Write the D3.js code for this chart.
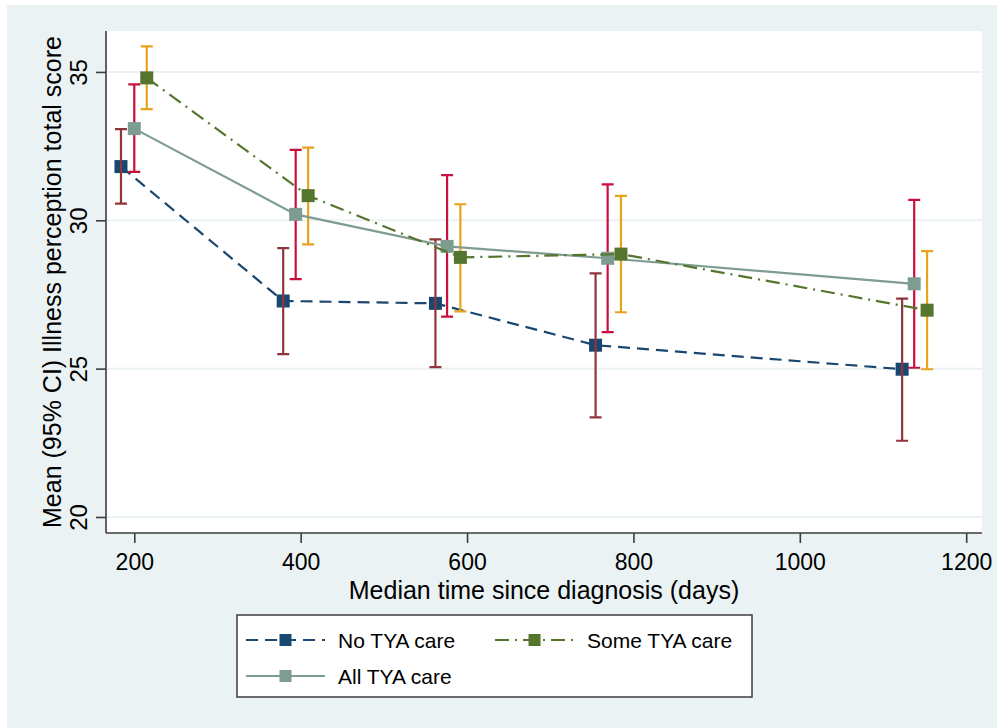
<!DOCTYPE html>
<html>
<head>
<meta charset="utf-8">
<script src="https://cdn.jsdelivr.net/npm/d3@7"></script>
<style>
  body { margin: 0; background: #ffffff; }
  svg text { font-family: "Liberation Sans", Arial, sans-serif; fill: #000; }
</style>
</head>
<body>
<div id="chart"></div>
<script>
// median days since diagnosis (each group plotted slightly offset)
var daysNo   = [184, 379, 562, 754.5, 1123];
var daysAll  = [200, 394, 576, 769, 1137.5];
var daysSome = [215, 409, 592, 785, 1153];

// means and 95% CI
var meanNo = [31.81, 27.28, 27.20, 25.79, 24.98];
var loNo   = [30.56, 25.49, 25.05, 23.36, 22.57];
var hiNo   = [33.07, 29.06, 29.36, 28.21, 27.36];

var meanAll = [33.09, 30.20, 29.12, 28.72, 27.86];
var loAll   = [31.63, 28.02, 26.75, 26.23, 25.03];
var hiAll   = [34.58, 32.37, 31.52, 31.21, 30.69];

var meanSome = [34.80, 30.83, 28.75, 28.86, 26.97];
var loSome   = [33.75, 29.19, 26.93, 26.90, 24.98];
var hiSome   = [35.86, 32.45, 30.54, 30.82, 28.96];

var xTicks = [200, 400, 600, 800, 1000, 1200];
var yTicks = [20, 25, 30, 35];
var legendLabels = ["No TYA care", "Some TYA care", "All TYA care"];

var W = 997, H = 728;
var plot = {left: 106, right: 982, top: 31, bottom: 533};

var svg = d3.select("#chart").append("svg")
    .attr("width", W)
    .attr("height", H);

// outer graph region
svg.append("rect")
    .attr("x", 7).attr("y", 5)
    .attr("width", W - 7).attr("height", H - 5)
    .attr("fill", "#eaf2f3");

svg.append("rect")
    .attr("x", plot.left).attr("y", plot.top)
    .attr("width", plot.right - plot.left).attr("height", plot.bottom - plot.top)
    .attr("fill", "#ffffff");

var xScale = d3.scaleLinear().domain([166, 1219]).range([plot.left, plot.right]);
var yScale = d3.scaleLinear().domain([19.46, 36.38]).range([plot.bottom, plot.top]);

// gridlines
svg.append("g")
    .selectAll("line")
    .data(yTicks)
    .enter().append("line")
    .attr("x1", plot.left).attr("x2", plot.right)
    .attr("y1", function(d){ return yScale(d); })
    .attr("y2", function(d){ return yScale(d); })
    .attr("stroke", "#eaf2f3")
    .attr("stroke-width", 2);

// axes
var xAxis = d3.axisBottom(xScale).tickValues(xTicks).tickFormat(d3.format("d"))
    .tickSize(10).tickPadding(11).tickSizeOuter(0);
var yAxis = d3.axisLeft(yScale).tickValues(yTicks).tickFormat(d3.format("d"))
    .tickSize(10).tickSizeOuter(0);

var xAxisGroup = svg.append("g")
    .attr("transform", "translate(0," + plot.bottom + ")")
    .call(xAxis);
xAxisGroup.select(".domain").attr("d", "M" + plot.left + ",0H" + plot.right);
xAxisGroup.selectAll("line, path").attr("stroke", "#3c3c3c").attr("stroke-width", 1.6);
xAxisGroup.selectAll("text").style("font-size", "23px").attr("fill", "#000");

var yAxisGroup = svg.append("g")
    .attr("transform", "translate(" + plot.left + ",0)")
    .call(yAxis);
yAxisGroup.select(".domain").attr("d", "M0," + plot.bottom + "V" + plot.top);
yAxisGroup.selectAll("line, path").attr("stroke", "#3c3c3c").attr("stroke-width", 1.6);
yAxisGroup.selectAll("text")
    .attr("x", null).attr("dy", null)
    .attr("transform", "translate(-19,0) rotate(-90)")
    .attr("text-anchor", "middle")
    .style("font-size", "24px")
    .attr("fill", "#000");

// axis titles
svg.append("text")
    .attr("x", (plot.left + plot.right) / 2)
    .attr("y", 599)
    .attr("text-anchor", "middle")
    .style("font-size", "25px")
    .text("Median time since diagnosis (days)");

svg.append("text")
    .attr("transform", "translate(61," + ((plot.top + plot.bottom) / 2) + ") rotate(-90)")
    .attr("text-anchor", "middle")
    .style("font-size", "25px")
    .text("Mean (95% CI) Illness perception total score");

function makeSeries(days, mean, lo, hi) {
    return days.map(function(d, i){ return {x: d, m: mean[i], lo: lo[i], hi: hi[i]}; });
}
var sNo = makeSeries(daysNo, meanNo, loNo, hiNo);
var sAll = makeSeries(daysAll, meanAll, loAll, hiAll);
var sSome = makeSeries(daysSome, meanSome, loSome, hiSome);

var toline = d3.line()
    .x(function(d){ return xScale(d.x); })
    .y(function(d){ return yScale(d.m); });

function drawConnected(data, color, dash, msize) {
    var g = svg.append("g");
    g.append("path")
        .attr("d", toline(data))
        .attr("fill", "none")
        .attr("stroke", color)
        .attr("stroke-width", 2.2)
        .attr("stroke-dasharray", dash);
    g.selectAll("rect")
        .data(data)
        .enter().append("rect")
        .attr("x", function(d){ return xScale(d.x) - msize / 2; })
        .attr("y", function(d){ return yScale(d.m) - msize / 2; })
        .attr("width", msize).attr("height", msize)
        .attr("fill", color);
}

function drawCaps(data, color) {
    var g = svg.append("g").attr("stroke", color).attr("stroke-width", 2.2).attr("fill", "none");
    var cap = 6;
    g.selectAll("path")
        .data(data)
        .enter().append("path")
        .attr("d", function(d){
            var x = xScale(d.x), y1 = yScale(d.hi), y2 = yScale(d.lo);
            return "M" + (x - cap) + "," + y1 + "H" + (x + cap) +
                   "M" + x + "," + y1 + "V" + y2 +
                   "M" + (x - cap) + "," + y2 + "H" + (x + cap);
        });
}

var navy = "#1a476f", green = "#55752f", grey = "#7f9c90";
var dashNo = "12,7", dashSome = "14,6,2,6";

drawConnected(sNo, navy, dashNo, 13);
drawCaps(sNo, "#90353b");
drawCaps(sAll, "#c8103e");
drawCaps(sSome, "#e8a21c");
drawConnected(sAll, grey, null, 13);
drawConnected(sSome, green, dashSome, 13);

// legend
var legend = svg.append("g");
legend.append("rect")
    .attr("x", 237).attr("y", 615)
    .attr("width", 515).attr("height", 82)
    .attr("fill", "#ffffff")
    .attr("stroke", "#3c3c3c")
    .attr("stroke-width", 1.5);

var legendItems = [
    {label: legendLabels[0], color: navy, dash: dashNo, x: 246, y: 640},
    {label: legendLabels[1], color: green, dash: dashSome, x: 495, y: 640},
    {label: legendLabels[2], color: grey, dash: null, x: 246, y: 676}
];
legendItems.forEach(function(it){
    legend.append("line")
        .attr("x1", it.x).attr("x2", it.x + 79)
        .attr("y1", it.y).attr("y2", it.y)
        .attr("stroke", it.color)
        .attr("stroke-width", 2.2)
        .attr("stroke-dasharray", it.dash);
    legend.append("rect")
        .attr("x", it.x + 39.5 - 6).attr("y", it.y - 6)
        .attr("width", 12).attr("height", 12)
        .attr("fill", it.color);
    legend.append("text")
        .attr("x", it.x + 92).attr("y", it.y + 8)
        .style("font-size", "21px")
        .text(it.label);
});
</script>
</body>
</html>
